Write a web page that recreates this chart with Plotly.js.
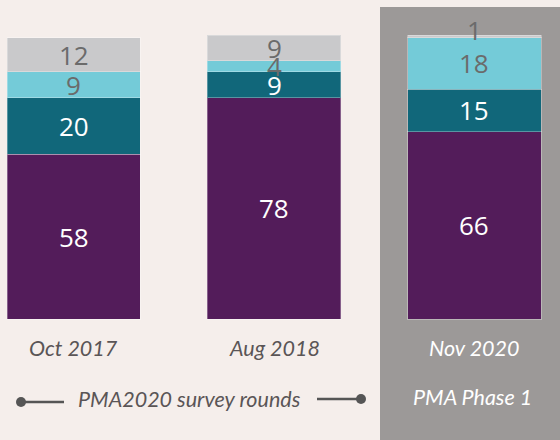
<!DOCTYPE html>
<html>
<head>
<meta charset="utf-8">
<script src="https://cdn.plot.ly/plotly-3.0.1.min.js"></script>
<style>
  html, body { margin: 0; padding: 0; background: #f5eeeb; }
  #chart { width: 560px; height: 440px; }
</style>
</head>
<body>
<div id="chart"></div>
<script>
// ---- data ----
const categories = ["Oct 2017", "Aug 2018", "Nov 2020"];
const seriesNames = ["Purple", "Teal", "Cyan", "Gray"];
const purpleVals = [58, 78, 66];
const tealVals = [20, 9, 15];
const cyanVals = [9, 4, 18];
const grayVals = [12, 9, 1];
const groupLabels = ["PMA2020 survey rounds", "PMA Phase 1"];

// ---- styles ----
const colors = ["#531c5a", "#11677a", "#74cbd8", "#c9c9cb"];
const labelColors = ["#ffffff", "#ffffff", "#6b6b6b", "#6b6b6b"];
const allSeries = [purpleVals, tealVals, cyanVals, grayVals];
const xIdx = categories.map((c, i) => i);

const traces = allSeries.map((vals, s) => ({
  type: "bar",
  name: seriesNames[s],
  x: xIdx,
  y: vals,
  width: 0.6665,
  marker: { color: colors[s], line: { color: "rgba(255,255,255,0.3)", width: 1 } },
  hoverinfo: "skip",
  showlegend: false
}));

const W = 560, H = 440;
const px = (v) => v / W, py = (v) => 1 - v / H;

const annotations = [];
xIdx.forEach((xi) => {
  let cum = 0;
  allSeries.forEach((vals, s) => {
    const v = vals[xi];
    annotations.push({
      x: xi, y: cum + v / 2, xref: "x", yref: "y",
      xanchor: "center", yanchor: "middle",
      text: String(v), showarrow: false,
      yshift: v < 3 ? 6 : 0,
      font: { family: "Open Sans, sans-serif", size: 26, color: labelColors[s] }
    });
    cum += v;
  });
});
// category labels
categories.forEach((c, i) => {
  annotations.push({
    x: i, y: py(348), xref: "x", yref: "paper",
    xanchor: "center", yanchor: "middle",
    text: "<i>" + c + "</i>", showarrow: false,
    font: { family: "Lato, sans-serif", size: 21.5, color: i === 2 ? "#ffffff" : "#5a5556" }
  });
});
annotations.push({
  x: px(189), y: py(399), xref: "paper", yref: "paper",
  xanchor: "center", yanchor: "middle",
  text: "<i>" + groupLabels[0] + "</i>", showarrow: false,
  font: { family: "Lato, sans-serif", size: 21.5, color: "#5a5556" }
});
annotations.push({
  x: px(472), y: py(397), xref: "paper", yref: "paper",
  xanchor: "center", yanchor: "middle",
  text: "<i>" + groupLabels[1] + "</i>", showarrow: false,
  font: { family: "Lato, sans-serif", size: 21.5, color: "#ffffff" }
});

const shapes = [
  { type: "rect", xref: "paper", yref: "paper", x0: px(380), x1: 1, y0: 0, y1: py(7),
    fillcolor: "#9c9998", line: { width: 0 }, layer: "below" },
  { type: "line", xref: "paper", yref: "paper", x0: px(21), x1: px(64), y0: py(402), y1: py(402),
    line: { color: "#555555", width: 2.5 } },
  { type: "circle", xref: "paper", yref: "paper", x0: px(16), x1: px(26), y0: py(397), y1: py(407),
    fillcolor: "#555555", line: { width: 0 } },
  { type: "line", xref: "paper", yref: "paper", x0: px(317), x1: px(361), y0: py(399), y1: py(399),
    line: { color: "#555555", width: 2.5 } },
  { type: "circle", xref: "paper", yref: "paper", x0: px(356), x1: px(366), y0: py(394), y1: py(404),
    fillcolor: "#555555", line: { width: 0 } }
];

const layout = {
  width: W, height: H,
  margin: { l: 0, r: 0, t: 0, b: 0 },
  paper_bgcolor: "#f5eeeb",
  plot_bgcolor: "rgba(0,0,0,0)",
  barmode: "stack",
  xaxis: { range: [-0.3682, 2.4279], visible: false, fixedrange: true },
  yaxis: { range: [-42.45, 112.31], visible: false, fixedrange: true },
  shapes: shapes,
  annotations: annotations,
  showlegend: false
};

Plotly.newPlot("chart", traces, layout, { displayModeBar: false, staticPlot: true });
</script>
</body>
</html>
